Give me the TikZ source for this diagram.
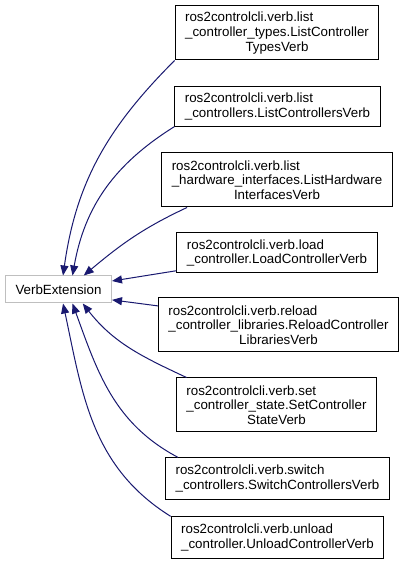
\documentclass[tikz,border=0pt]{standalone}
\usepackage{fontspec}
\setmainfont{Liberation Sans}
\usepackage{tikz}
\usetikzlibrary{arrows.meta}
\definecolor{edgeblue}{RGB}{25,25,112}
\definecolor{basegray}{RGB}{191,191,191}
\newcommand{\midline}[1]{\null\hfill#1\hfill\null}

\begin{document}
\begin{tikzpicture}[x=0.75pt,y=0.75pt,
  cls/.style={draw=black,line width=0.75pt,fill=white,align=left,inner xsep=7.5pt,inner ysep=2pt,font=\fontsize{10}{11}\selectfont},
  inh/.style={draw=edgeblue,line width=0.75pt,-{Triangle[length=7.5pt,width=6pt]}}]
\useasboundingbox[fill=white] (0,0) rectangle (400,571);
\node[draw=basegray,line width=0.75pt,inner xsep=7.5pt,minimum height=20.25pt,font=\fontsize{10}{11}\selectfont] (base) at (58.5,281.5) {VerbExtension};
\node[cls,minimum height=40.5pt] (types) at (277,538) {ros2controlcli.verb.list\\\_controller\_types.ListController\\\midline{TypesVerb}};
\node[cls,minimum height=29.5pt] (list) at (277.5,464.5) {ros2controlcli.verb.list\\\_controllers.ListControllersVerb};
\node[cls,minimum height=40.5pt] (hw) at (277,391) {ros2controlcli.verb.list\\\_hardware\_interfaces.ListHardware\\\midline{InterfacesVerb}};
\node[cls,minimum height=30pt] (load) at (277,318) {ros2controlcli.verb.load\\\_controller.LoadControllerVerb};
\node[cls,minimum height=40.5pt] (reload) at (278.5,246) {ros2controlcli.verb.reload\\\_controller\_libraries.ReloadController\\\midline{LibrariesVerb}};
\node[cls,minimum height=40.5pt] (state) at (276.5,166) {ros2controlcli.verb.set\\\_controller\_state.SetController\\\midline{StateVerb}};
\node[cls,minimum height=31pt] (switch) at (277.5,92.5) {ros2controlcli.verb.switch\\\_controllers.SwitchControllersVerb};
\node[cls,minimum height=31pt] (unload) at (277.5,33.5) {ros2controlcli.verb.unload\\\_controller.UnloadControllerVerb};
% inheritance edges
\draw[inh] (types.south west) to[out=225,in=82] (base.72);
\draw[inh] (list.south west) to[out=212,in=80] (base.45);
\draw[inh] (hw.197) to[out=205,in=40] (base.29);
\draw[inh] (load.190) -- (base.9);
\draw[inh] (reload.171) -- (base.-11);
\draw[inh] (state.163) to[out=155,in=-52] (base.-30);
\draw[inh] (switch.168) to[out=152,in=-70] (base.-45);
\draw[inh] (unload.north west) to[out=148,in=-78] (base.-72);
\end{tikzpicture}
\end{document}
